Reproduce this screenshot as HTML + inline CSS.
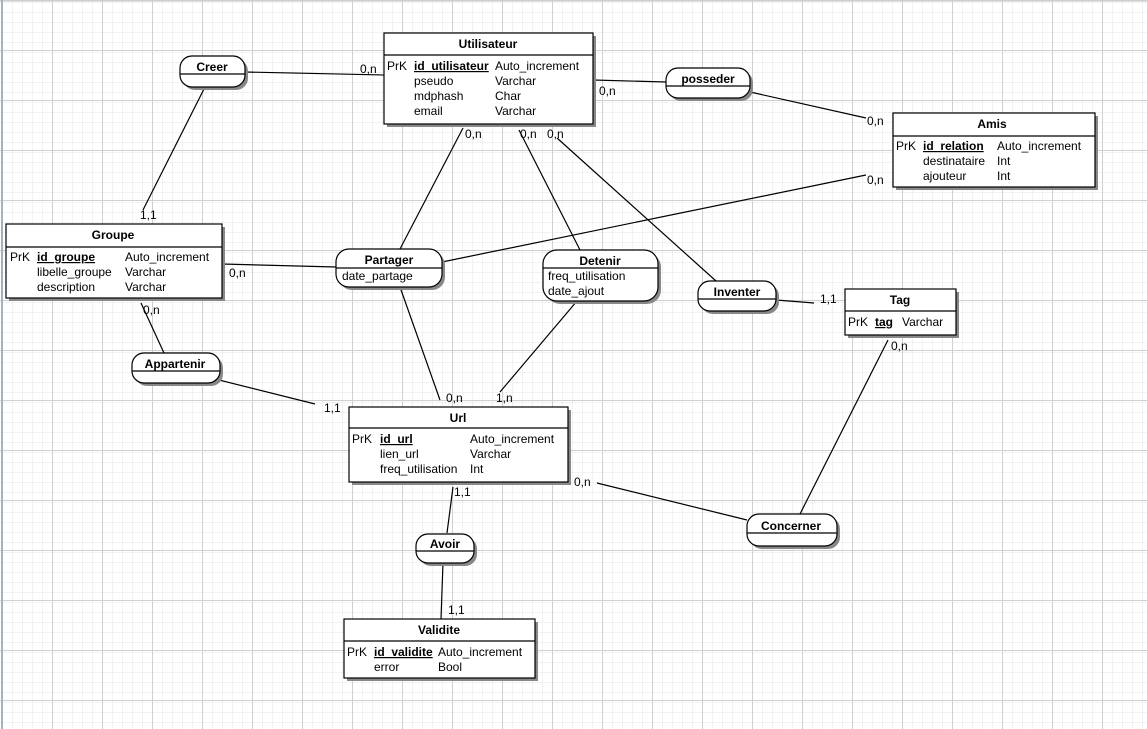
<!DOCTYPE html>
<html><head><meta charset="utf-8"><style>
body{margin:0;background:#fff;}
svg{display:block;font-family:"Liberation Sans",sans-serif;}
.t{font-size:12px;font-weight:bold;text-anchor:middle;}
.b{font-size:12px;fill:#000;}
.l{font-size:12px;}
</style></head><body>
<svg width="1147" height="729" xmlns="http://www.w3.org/2000/svg">
<defs>
<pattern id="g" x="2" y="2" width="10" height="10" patternUnits="userSpaceOnUse">
<path d="M0 0H10M0 0V10" stroke="#e4e4e4" stroke-width="1" fill="none"/>
</pattern>
<pattern id="G" x="2" y="0" width="50" height="50" patternUnits="userSpaceOnUse">
<path d="M0 0.5H50M0.5 0V50" stroke="#d0d0d0" stroke-width="1" fill="none"/>
</pattern>
</defs>
<rect width="1147" height="729" fill="url(#g)"/>
<rect width="1147" height="729" fill="url(#G)"/>
<line x1="0" y1="1" x2="1147" y2="1" stroke="#c8c8c8"/>
<line x1="2" y1="0" x2="2" y2="729" stroke="#a8b0c0" stroke-width="2"/>

<g stroke="#000" stroke-width="1.2" fill="none">
<line x1="245" y1="72" x2="384" y2="75"/>
<line x1="205" y1="87" x2="143" y2="210"/>
<line x1="593" y1="80" x2="666" y2="82"/>
<line x1="750" y1="92" x2="866" y2="118"/>
<line x1="866" y1="175" x2="442" y2="262"/>
<line x1="463" y1="128" x2="400" y2="249"/>
<line x1="519" y1="130" x2="580" y2="250"/>
<line x1="557" y1="138" x2="716" y2="281"/>
<line x1="222" y1="264" x2="336" y2="267"/>
<line x1="141" y1="303" x2="164" y2="353"/>
<line x1="219" y1="380" x2="315" y2="404"/>
<line x1="400" y1="287" x2="440" y2="400"/>
<line x1="577" y1="301" x2="500" y2="392"/>
<line x1="776" y1="300" x2="814" y2="303"/>
<line x1="888" y1="340" x2="800" y2="514"/>
<line x1="597" y1="483" x2="747" y2="520"/>
<line x1="453" y1="487" x2="447" y2="533"/>
<line x1="443" y1="563" x2="441" y2="619"/>
</g>

<g class="l">
<text x="360" y="73">0,n</text>
<text x="140" y="219">1,1</text>
<text x="599" y="95">0,n</text>
<text x="867" y="125">0,n</text>
<text x="867" y="184">0,n</text>
<text x="465" y="138">0,n</text>
<text x="520" y="138">0,n</text>
<text x="547" y="138">0,n</text>
<text x="229" y="277">0,n</text>
<text x="143" y="314">0,n</text>
<text x="324" y="412">1,1</text>
<text x="446" y="402">0,n</text>
<text x="496" y="402">1,n</text>
<text x="820" y="303">1,1</text>
<text x="891" y="350">0,n</text>
<text x="574" y="486">0,n</text>
<text x="454" y="496">1,1</text>
<text x="448" y="614">1,1</text>
</g>

<!-- relations -->
<g stroke="#000" stroke-width="1.2">
<rect x="183" y="59" width="65" height="31" rx="12" fill="#888" stroke="none"/>
<rect x="180" y="56" width="65" height="31" rx="12" fill="#fff"/>
<line x1="180" y1="74" x2="245" y2="74"/>
<rect x="669" y="71" width="84" height="30" rx="12" fill="#888" stroke="none"/>
<rect x="666" y="68" width="84" height="30" rx="12" fill="#fff"/>
<line x1="666" y1="86" x2="750" y2="86"/>
<rect x="339" y="252" width="106" height="38" rx="13" fill="#888" stroke="none"/>
<rect x="336" y="249" width="106" height="38" rx="13" fill="#fff"/>
<line x1="336" y1="268" x2="442" y2="268"/>
<rect x="546" y="253" width="115" height="51" rx="14" fill="#888" stroke="none"/>
<rect x="543" y="250" width="115" height="51" rx="14" fill="#fff"/>
<line x1="543" y1="268" x2="658" y2="268"/>
<rect x="701" y="284" width="78" height="30" rx="12" fill="#888" stroke="none"/>
<rect x="698" y="281" width="78" height="30" rx="12" fill="#fff"/>
<line x1="698" y1="299" x2="776" y2="299"/>
<rect x="135" y="356" width="88" height="30" rx="12" fill="#888" stroke="none"/>
<rect x="132" y="353" width="88" height="30" rx="12" fill="#fff"/>
<line x1="132" y1="371" x2="220" y2="371"/>
<rect x="419" y="537" width="58" height="29" rx="12" fill="#888" stroke="none"/>
<rect x="416" y="534" width="58" height="29" rx="12" fill="#fff"/>
<line x1="416" y1="551" x2="474" y2="551"/>
<rect x="750" y="517" width="90" height="32" rx="12" fill="#888" stroke="none"/>
<rect x="747" y="514" width="90" height="32" rx="12" fill="#fff"/>
<line x1="747" y1="533" x2="837" y2="533"/>
</g>
<text class="t" x="212" y="71">Creer</text>
<text class="t" x="708" y="83">posseder</text>
<text class="t" x="389" y="264">Partager</text>
<text class="b" x="342" y="280">date_partage</text>
<text class="t" x="600" y="265">Detenir</text>
<text class="b" x="548" y="280">freq_utilisation</text>
<text class="b" x="548" y="295">date_ajout</text>
<text class="t" x="737" y="296">Inventer</text>
<text class="t" x="175" y="368">Appartenir</text>
<text class="t" x="445" y="548">Avoir</text>
<text class="t" x="791" y="530">Concerner</text>

<!-- entities -->
<g stroke="#000" stroke-width="1.2">
<rect x="387" y="36" width="209" height="91" fill="#888" stroke="none"/>
<rect x="384" y="33" width="209" height="91" fill="#fff"/>
<line x1="384" y1="55" x2="593" y2="55"/>
<rect x="896" y="116" width="202" height="74" fill="#888" stroke="none"/>
<rect x="893" y="113" width="202" height="74" fill="#fff"/>
<line x1="893" y1="136" x2="1095" y2="136"/>
<rect x="9" y="227" width="216" height="74" fill="#888" stroke="none"/>
<rect x="6" y="224" width="216" height="74" fill="#fff"/>
<line x1="6" y1="247" x2="222" y2="247"/>
<rect x="848" y="292" width="111" height="46" fill="#888" stroke="none"/>
<rect x="845" y="289" width="111" height="46" fill="#fff"/>
<line x1="845" y1="311" x2="956" y2="311"/>
<rect x="352" y="410" width="219" height="75" fill="#888" stroke="none"/>
<rect x="349" y="407" width="219" height="75" fill="#fff"/>
<line x1="349" y1="428" x2="568" y2="428"/>
<rect x="347" y="622" width="191" height="59" fill="#888" stroke="none"/>
<rect x="344" y="619" width="191" height="59" fill="#fff"/>
<line x1="344" y1="641" x2="535" y2="641"/>
</g>

<text class="t" x="488" y="48">Utilisateur</text>
<g class="b">
<text x="387" y="70">PrK</text>
<text x="414" y="70" font-weight="bold" text-decoration="underline">id_utilisateur</text>
<text x="495" y="70">Auto_increment</text>
<text x="414" y="85">pseudo</text><text x="495" y="85">Varchar</text>
<text x="414" y="100">mdphash</text><text x="495" y="100">Char</text>
<text x="414" y="115">email</text><text x="495" y="115">Varchar</text>
</g>

<text class="t" x="992" y="128">Amis</text>
<g class="b">
<text x="896" y="150">PrK</text>
<text x="923" y="150" font-weight="bold" text-decoration="underline">id_relation</text>
<text x="997" y="150">Auto_increment</text>
<text x="923" y="165">destinataire</text><text x="997" y="165">Int</text>
<text x="923" y="180">ajouteur</text><text x="997" y="180">Int</text>
</g>

<text class="t" x="113" y="239">Groupe</text>
<g class="b">
<text x="10" y="261">PrK</text>
<text x="37" y="261" font-weight="bold" text-decoration="underline">id_groupe</text>
<text x="125" y="261">Auto_increment</text>
<text x="37" y="276">libelle_groupe</text><text x="125" y="276">Varchar</text>
<text x="37" y="291">description</text><text x="125" y="291">Varchar</text>
</g>

<text class="t" x="900" y="304">Tag</text>
<g class="b">
<text x="848" y="326">PrK</text>
<text x="875" y="326" font-weight="bold" text-decoration="underline">tag</text>
<text x="902" y="326">Varchar</text>
</g>

<text class="t" x="458" y="422">Url</text>
<g class="b">
<text x="352" y="443">PrK</text>
<text x="380" y="443" font-weight="bold" text-decoration="underline">id_url</text>
<text x="470" y="443">Auto_increment</text>
<text x="380" y="458">lien_url</text><text x="470" y="458">Varchar</text>
<text x="380" y="473">freq_utilisation</text><text x="470" y="473">Int</text>
</g>

<text class="t" x="439" y="634">Validite</text>
<g class="b">
<text x="347" y="656">PrK</text>
<text x="374" y="656" font-weight="bold" text-decoration="underline">id_validite</text>
<text x="438" y="656">Auto_increment</text>
<text x="374" y="671">error</text><text x="438" y="671">Bool</text>
</g>
</svg>
</body></html>
